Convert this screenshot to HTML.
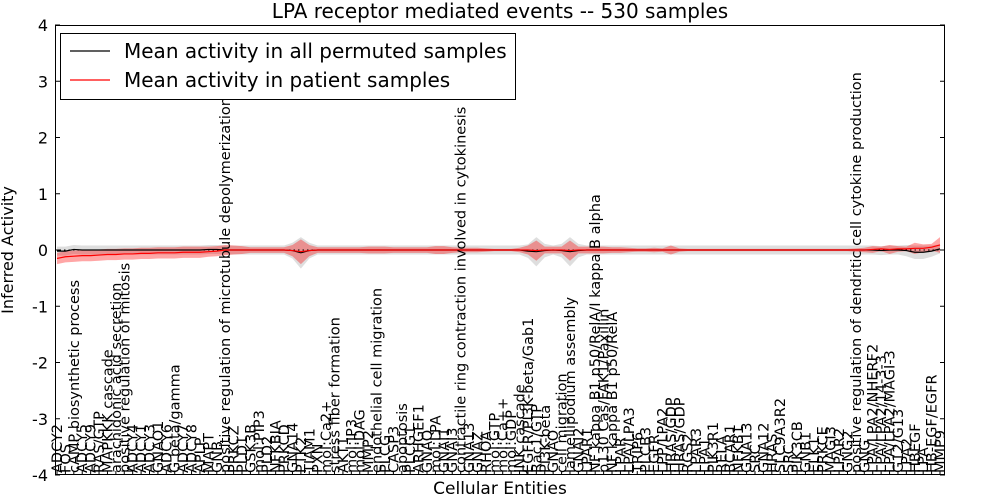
<!DOCTYPE html>
<html><head><meta charset="utf-8"><style>
body{margin:0;background:#fff;}
svg{display:block;font-family:"DejaVu Sans","Liberation Sans",sans-serif;}
</style></head><body>
<svg id="chart" width="1000" height="500">
<rect x="0" y="0" width="1000" height="500" fill="#fff"/>
<text x="500" y="18" text-anchor="middle" font-size="20">LPA receptor mediated events -- 530 samples</text>
<g id="plot"></g>
<text x="500" y="494" text-anchor="middle" font-size="17">Cellular Entities</text>
<text transform="translate(13,250) rotate(-90)" text-anchor="middle" font-size="16">Inferred Activity</text>
<g>
<rect x="60.5" y="33.5" width="455" height="66" fill="#fff" stroke="#000" stroke-width="1"/>
<g><line x1="70" y1="51" x2="110" y2="51" stroke="#000" stroke-width="1.2"/><text x="124" y="58" font-size="20">Mean activity in all permuted samples</text></g>
<g><line x1="70" y1="80" x2="110" y2="80" stroke="#f00" stroke-width="1.2"/><text x="124" y="87" font-size="20">Mean activity in patient samples</text></g>
</g>
</svg>
<script>
const labels=["ADCY2","FOS","cAMP biosynthetic process","ADCY5","ADCY9","RAS/GTP","MAPKKK cascade","arachidonic acid secretion","positive regulation of mitosis","ADCY4","ADCY1","ADCY3","GNAO1","ADCY6","G beta/gamma","ADCY7","ADCY8","APLP","MAPT","GNB","positive regulation of microtubule depolymerization","PRKCZ","PLD1","GSK3B","mol:PIP3","PLD2","NFKBIA","PRKCD","GNA14","PTK2","TIAM1","PXN","mol:Ca2+","stress fiber formation","AKT1","mol:IP3","mol:DAG","MMP2","endothelial cell migration","PLCG","CASP3","apoptosis","PLCG1","ARHGEF1","GNAQ","mol:LPA","GNAI1","GNAI3","contractile ring contraction involved in cytokinesis","GNA13","GNAZ","RHOA","mol:GTP","mol:Ca++","mol:GDP","JNK cascade","EGFR/PI3K-beta/Gab1","Rac1/GTP","PI3K-beta","GNAO","cell migration","lamellipodium assembly","GNAI2","LPAR1","NF kappa B1 p50/RelA/I kappa B alpha","p130 Cas/FAK1/Paxillin","NF kappa B1 p50/RelA","LPAR","LPA/LPA3","TRIP6","PLCB3","EGFR","LPP/LPA2","HRAS/GDP","HRAS/GDP","RGS2","LPAR3","LPA1","PIK3R1","RELA","BCAR1","NFKB1","GNA13","SRC","GNA12","HRAS","SLC9A3R2","SRC","PIK3CB","GNB1","ELK1","PRKCE","MAGI3","LPAR2","GNG2","positive regulation of dendritic cell cytokine production","GNG","LPA/LPA2/NHERF2","LPA/LPA2/14-3-3","LPA/LPA2/MAGI-3","G12/G13","LPA2","HBEGF","LPA","HB-EGF/EGFR","MMP9"];
const redMean=[-0.15,-0.12,-0.11,-0.10,-0.10,-0.09,-0.08,-0.08,-0.07,-0.07,-0.06,-0.06,-0.05,-0.05,-0.05,-0.04,-0.04,-0.04,-0.03,-0.02,0,0,0,0,0,0,0,0,-0.01,-0.03,-0.01,0,0,0,0,0,0,0,0,0,0,0,0,0,0,0,0,0,0,0,0,0,0,0,0,0,0,-0.01,0,0,0,-0.01,0,0,0,0,0,0,0,0,0,0,0,0,0,0,0,0,0,0,0,0,0,0,0,0,0,0,0,0,0,0,0,0,0,0,0,0.01,0.02,0.01,0.02,0.02,0.03,0.03,0.05,0.09];
const redBand=[0.10,0.10,0.10,0.10,0.10,0.10,0.10,0.10,0.10,0.10,0.10,0.10,0.10,0.10,0.10,0.10,0.10,0.10,0.09,0.09,0.09,0.08,0.07,0.05,0.05,0.05,0.05,0.05,0.10,0.22,0.10,0.05,0.05,0.05,0.05,0.05,0.05,0.06,0.06,0.06,0.05,0.05,0.05,0.05,0.05,0.07,0.07,0.05,0.04,0.04,0.04,0.03,0.02,0.02,0.02,0.04,0.08,0.18,0.06,0.06,0.06,0.18,0.06,0.06,0.06,0.06,0.05,0.05,0.04,0.03,0.03,0.04,0.03,0.08,0.03,0.02,0.02,0.02,0.02,0.02,0.02,0.02,0.02,0.02,0.02,0.02,0.02,0.02,0.02,0.02,0.02,0.02,0.02,0.02,0.02,0.03,0.04,0.06,0.04,0.08,0.05,0.04,0.10,0.07,0.06,0.14];
const blackMean=[-0.02,-0.02,0.01,0,0,0,0,0,0,0,0,0,0,0,0,0,0,0,0.01,0.01,0,0,0,0,0,0,0,0,-0.01,-0.05,-0.01,0,0,0,0,0,0,0,0,0,0,0,0,0,0,0,0,0,0,0,0,0,0,0,0,0,-0.02,-0.03,-0.01,0,-0.01,-0.03,-0.01,0,0,0,0,0,0,0,0,0,0,0,0,0,0,0,0,0,0,0,0,0,0,0,0,0,0,0,0,0,0,0,0,0,0,0,-0.01,0,0,-0.01,-0.04,-0.04,-0.02,0.02];
const grayBand=[0.08,0.08,0.08,0.08,0.08,0.08,0.08,0.08,0.08,0.08,0.08,0.08,0.08,0.08,0.08,0.08,0.08,0.08,0.08,0.08,0.08,0.08,0.08,0.08,0.08,0.08,0.08,0.08,0.14,0.28,0.14,0.08,0.08,0.08,0.08,0.08,0.08,0.08,0.08,0.08,0.08,0.08,0.08,0.08,0.08,0.08,0.08,0.08,0.08,0.08,0.08,0.08,0.08,0.08,0.08,0.08,0.12,0.26,0.12,0.08,0.12,0.26,0.12,0.08,0.08,0.08,0.08,0.08,0.08,0.08,0.08,0.08,0.08,0.08,0.08,0.08,0.08,0.08,0.08,0.08,0.08,0.08,0.08,0.08,0.08,0.08,0.08,0.08,0.08,0.08,0.08,0.08,0.08,0.08,0.08,0.08,0.08,0.08,0.08,0.08,0.08,0.1,0.12,0.12,0.1,0.08];
const yTicks=[-4,-3,-2,-1,0,1,2,3,4];

const L=55,R=945,T=25,B=475;
const n=labels.length;
const xs=i=>57+i*(940-57)/(n-1);
const ys=v=>B-(v+4)/8*(B-T);
const NS="http://www.w3.org/2000/svg";
const plot=document.getElementById('plot');
function mk(tag,attrs,parent){const e=document.createElementNS(NS,tag);for(const k in attrs)e.setAttribute(k,attrs[k]);(parent||plot).appendChild(e);return e;}
function band(mean,half,fill,op,name){
  let up=[],dn=[];
  for(let i=0;i<n;i++){up.push(xs(i)+","+ys(mean[i]+half[i]));dn.unshift(xs(i)+","+ys(mean[i]-half[i]));}
  const p=mk('polygon',{points:up.concat(dn).join(' '),fill:fill,'fill-opacity':op});
  
  
}
band(blackMean,grayBand,'#c8c8c8',0.6,'permuted-band');
band(redMean,redBand,'#f00',0.35,'patient-band');
const zl=mk('line',{x1:L,x2:R,y1:ys(0),y2:ys(0),stroke:'#000','stroke-dasharray':'1.5,3','stroke-width':1});


function line(vals,col,name){
  const pts=vals.map((v,i)=>xs(i)+","+ys(v)).join(' ');
  const p=mk('polyline',{points:pts,fill:'none',stroke:col,'stroke-width':1.2});
  
  
}
line(blackMean,'#000','permuted-mean-line');
line(redMean,'#f00','patient-mean-line');
const fr=mk('rect',{x:L+0.5,y:T+0.5,width:R-L-1,height:B-T-1,fill:'none',stroke:'#000','stroke-width':1});


yTicks.forEach(t=>{
  const y=ys(t);
  mk('line',{x1:L,x2:L+5,y1:y,y2:y,stroke:'#000'});
  mk('line',{x1:R-5,x2:R,y1:y,y2:y,stroke:'#000'});
  const tx=mk('text',{x:L-7,y:y+6,'text-anchor':'end','font-size':16});
  tx.textContent=t;
  
  
});
labels.forEach((lab,i)=>{
  const x=xs(i);
  mk('line',{x1:x,x2:x,y1:B,y2:B-4,stroke:'#000'});
  const tx=mk('text',{transform:`translate(${x+5},${B-2}) rotate(-90)`,'font-size':14.5});
  tx.textContent=lab;
  
  
});
</script>
</body></html>
